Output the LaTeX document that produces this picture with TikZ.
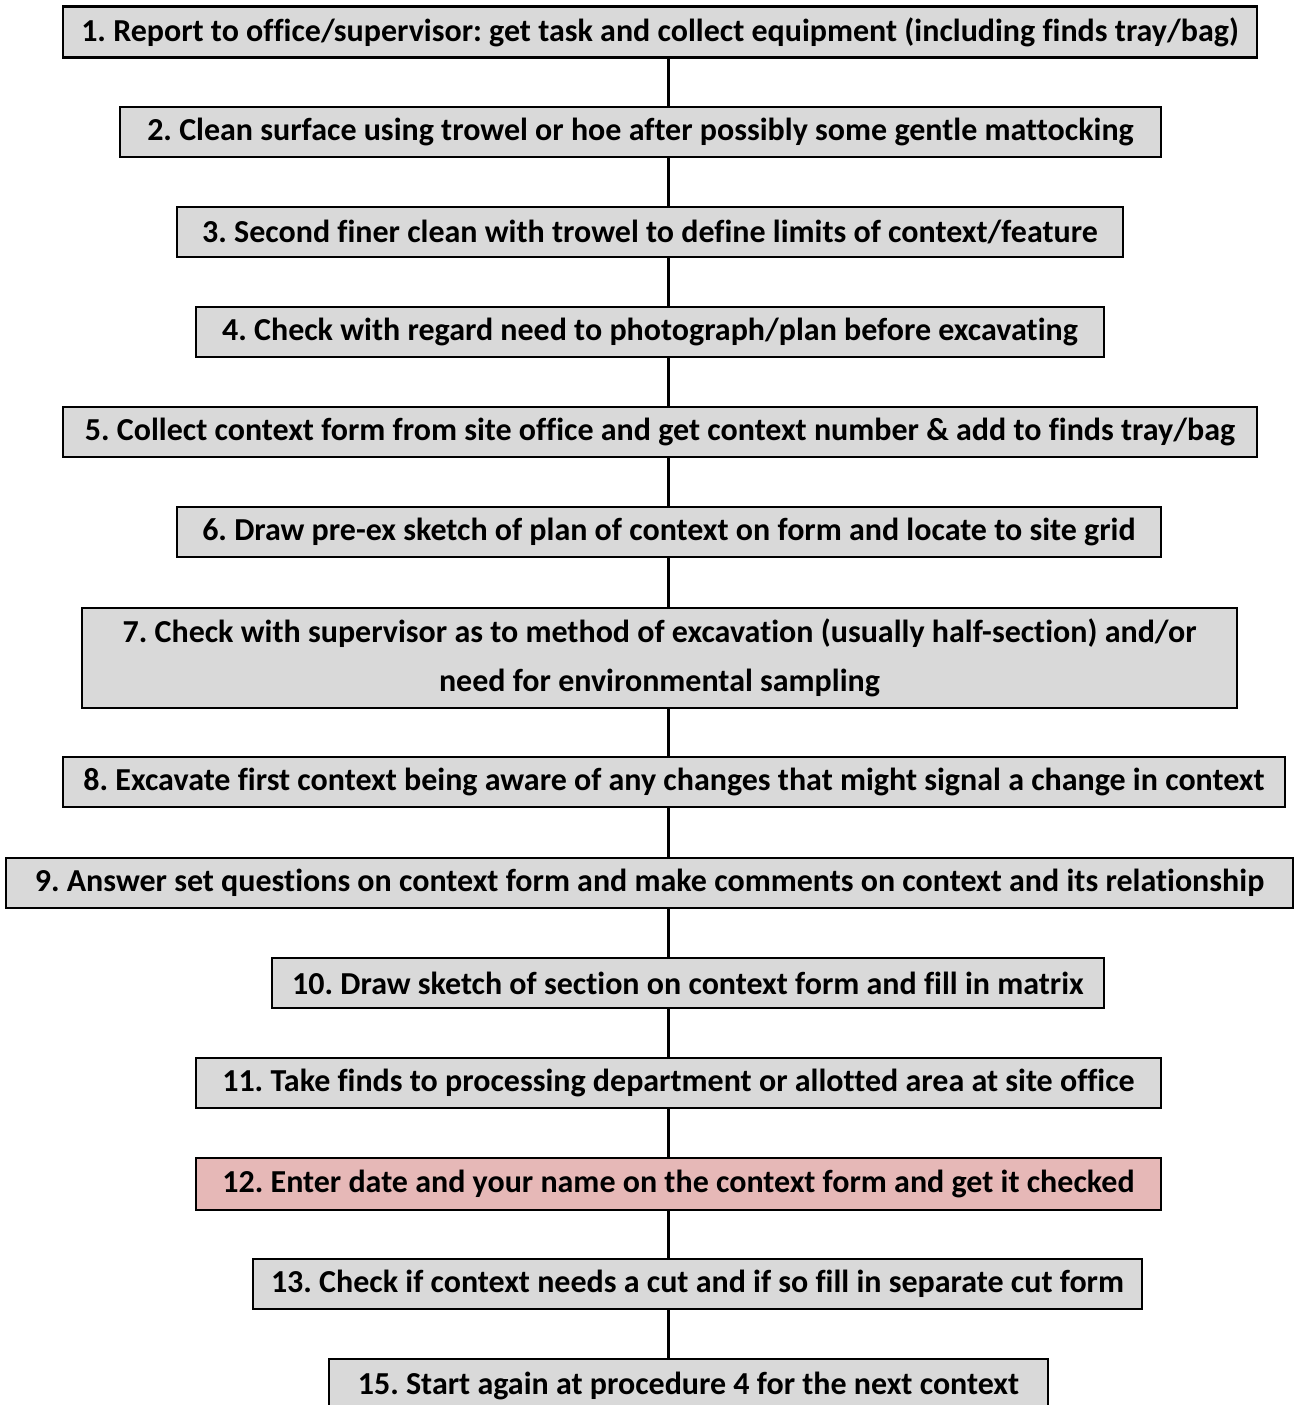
\documentclass[tikz,border=0pt]{standalone}
\usepackage{fontspec}
\setmainfont[Ligatures={NoCommon}]{Carlito}
\frenchspacing
\definecolor{boxgray}{HTML}{D9D9D9}
\definecolor{boxpink}{HTML}{E6B8B7}
\tikzset{
  stepbox/.style={draw=black, line width=2.6pt, fill=boxgray, inner sep=0pt,
    font=\bfseries\fontsize{32}{49}\selectfont, align=center},
  hilite/.style={fill=boxpink},
  link/.style={line width=3pt}
}
\begin{document}
\begin{tikzpicture}[x=1pt,y=-1pt]
\useasboundingbox (0,0) rectangle (1294,1405);
\fill[white] (0,0) rectangle (1294,1405);
\coordinate (spine) at (668,0);

\node[stepbox, minimum width=1194, minimum height=51] (b1) at (660,32)
  {1. Report to office/supervisor: get task and collect equipment (including finds tray/bag)};
\node[stepbox, minimum width=1041, minimum height=50] (b2) at (640.5,132)
  {2. Clean surface using trowel or hoe after possibly some gentle mattocking};
\node[stepbox, minimum width=946, minimum height=50] (b3) at (650,232)
  {3. Second finer clean with trowel to define limits of context/feature};
\node[stepbox, minimum width=908, minimum height=50] (b4) at (650,332)
  {4. Check with regard need to photograph/plan before excavating};
\node[stepbox, minimum width=1194, minimum height=50] (b5) at (660,432)
  {5. Collect context form from site office and get context number \& add to finds tray/bag};
\node[stepbox, minimum width=984, minimum height=50] (b6) at (669,532)
  {6. Draw pre-ex sketch of plan of context on form and locate to site grid};
\node[stepbox, minimum width=1155, minimum height=100] (b7) at (659.5,658)
  {7. Check with supervisor as to method of excavation (usually half-section) and/or\\
   need for environmental sampling};
\node[stepbox, minimum width=1222, minimum height=50] (b8) at (674,782)
  {8. Excavate first context being aware of any changes that might signal a change in context};
\node[stepbox, minimum width=1287, minimum height=50] (b9) at (649.5,883)
  {9. Answer set questions on context form and make comments on context and its relationship};
\node[stepbox, minimum width=832, minimum height=50] (b10) at (688,983)
  {10. Draw sketch of section on context form and fill in matrix};
\node[stepbox, minimum width=965, minimum height=50] (b11) at (678.5,1083)
  {11. Take finds to processing department or allotted area at site office};
\node[stepbox, hilite, minimum width=965, minimum height=52] (b12) at (678.5,1184)
  {12. Enter date and your name on the context form and get it checked};
\node[stepbox, minimum width=889, minimum height=50] (b13) at (697.5,1284)
  {13. Check if context needs a cut and if so fill in separate cut form};
\node[stepbox, minimum width=719, minimum height=54] (b15) at (688.5,1386)
  {15. Start again at procedure 4 for the next context};

\foreach \a/\b in {b1/b2,b2/b3,b3/b4,b4/b5,b5/b6,b6/b7,b7/b8,b8/b9,b9/b10,b10/b11,b11/b12,b12/b13,b13/b15}
  \draw[link] (\a.south -| spine) -- (\b.north -| spine);
\end{tikzpicture}
\end{document}
